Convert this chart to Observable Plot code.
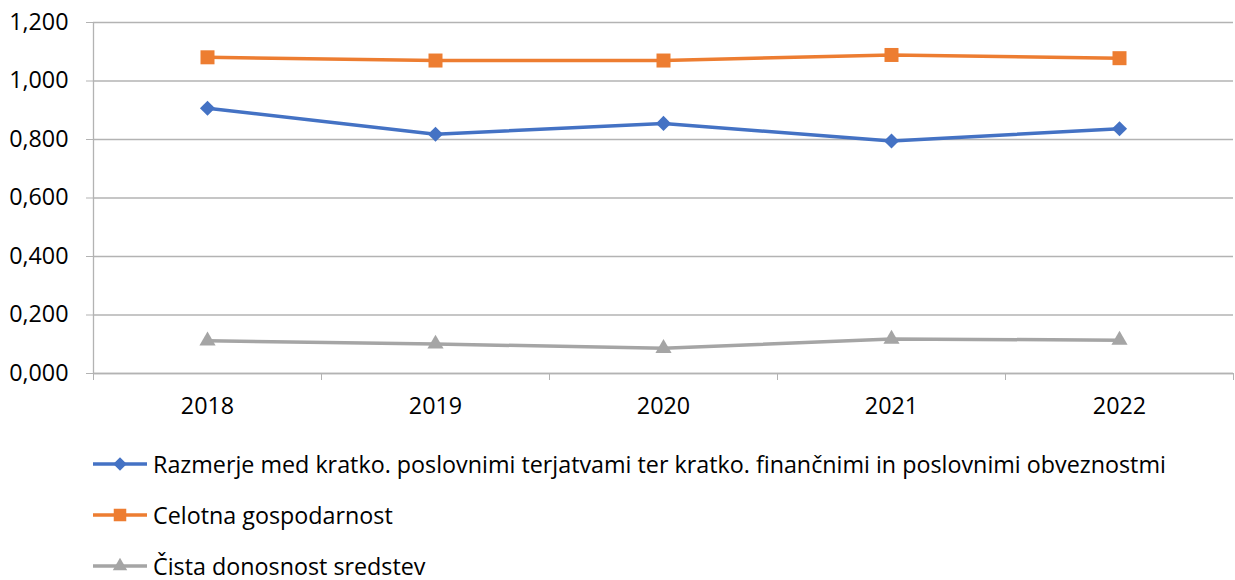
<!DOCTYPE html>
<html>
<head>
<meta charset="utf-8">
<script src="https://cdn.jsdelivr.net/npm/d3@7"></script>
<script src="https://cdn.jsdelivr.net/npm/@observablehq/plot@0.6"></script>
<style>
  body { margin: 0; background: #fff; font-family: "Open Sans", sans-serif; }
  #legend { margin-top: 8px; }
  .row { height: 51px; display: flex; align-items: center; font-size: 23.3px; color: #000; white-space: nowrap; }
  .row svg { margin-left: 93px; margin-right: 6px; flex: none; }
</style>
</head>
<body>
<div id="chart"></div>
<div id="legend"></div>
<script>
const years = [2018, 2019, 2020, 2021, 2022];
const seriesNames = [
  "Razmerje med kratko. poslovnimi terjatvami ter kratko. finančnimi in poslovnimi obveznostmi",
  "Celotna gospodarnost",
  "Čista donosnost sredstev"
];
const razmerje = [0.907, 0.818, 0.855, 0.795, 0.837];
const gospodarnost = [1.081, 1.070, 1.070, 1.089, 1.078];
const donosnost = [0.112, 0.101, 0.086, 0.118, 0.114];
const colors = ["#4472C4", "#ED7D31", "#A5A5A5"];
const symbols = ["diamond2", "square", "triangle"];
const radii = [6.8, 7.9, 6.0];
const yTicks = [0, 0.2, 0.4, 0.6, 0.8, 1.0, 1.2];

const values = [razmerje, gospodarnost, donosnost];
const data = [];
seriesNames.forEach((s, i) => years.forEach((yr, j) => data.push({series: s, idx: i, year: yr, value: values[i][j]})));
const boundaries = [...years.map(y => y - 0.5), years[years.length - 1] + 0.5];

const yFmt = v => {
  const [a, b] = d3.format(".3f")(v).split(".");
  return a + "," + b;
};

const marks = [
  Plot.gridY(yTicks, {stroke: "#b3b3b3", strokeOpacity: 1, strokeWidth: 1.3}),
  Plot.axisY(yTicks, {tickFormat: yFmt, tickSize: 7, tickPadding: 18, fontSize: 23.3, stroke: "#b3b3b3", color: "#000", label: null}),
  Plot.ruleX([years[0] - 0.5], {stroke: "#b3b3b3", strokeWidth: 1.3}),
  Plot.ruleY([0], {stroke: "#b3b3b3", strokeWidth: 1.3}),
  Plot.axisX(boundaries, {tickFormat: () => "", tickSize: 7, stroke: "#b3b3b3", label: null}),
  Plot.axisX(years, {tickFormat: d => String(d), tickSize: 0, tickPadding: 24, fontSize: 23.3, label: null})
];
seriesNames.forEach((s, i) => {
  const d = data.filter(r => r.idx === i);
  marks.push(Plot.line(d, {x: "year", y: "value", stroke: colors[i], strokeWidth: 3.5}));
  marks.push(Plot.dot(d, {x: "year", y: "value", symbol: () => symbols[i], fill: colors[i], stroke: "none", r: radii[i]}));
});

const chart = Plot.plot({
  width: 1235,
  height: 430,
  marginLeft: 93,
  marginRight: 2,
  marginTop: 22,
  marginBottom: 57,
  x: {type: "linear", domain: [years[0] - 0.5, years[years.length - 1] + 0.5], label: null},
  y: {domain: [0, 1.2], label: null},
  style: {fontFamily: "'Open Sans', sans-serif", color: "#000", background: "#fff"},
  marks
});
document.getElementById("chart").appendChild(chart);

const legend = document.getElementById("legend");
seriesNames.forEach((s, i) => {
  const row = document.createElement("div");
  row.className = "row";
  const sym = d3.symbol(
    i === 0 ? d3.symbolDiamond2 : i === 1 ? d3.symbolSquare : d3.symbolTriangle,
    Math.PI * radii[i] * radii[i] * 0.8
  )();
  row.innerHTML = `<svg width="54" height="20"><line x1="0" x2="54" y1="10" y2="10" stroke="${colors[i]}" stroke-width="3.5"/><path transform="translate(27,10)" d="${sym}" fill="${colors[i]}"/></svg><span>${s}</span>`;
  legend.appendChild(row);
});
</script>
</body>
</html>
